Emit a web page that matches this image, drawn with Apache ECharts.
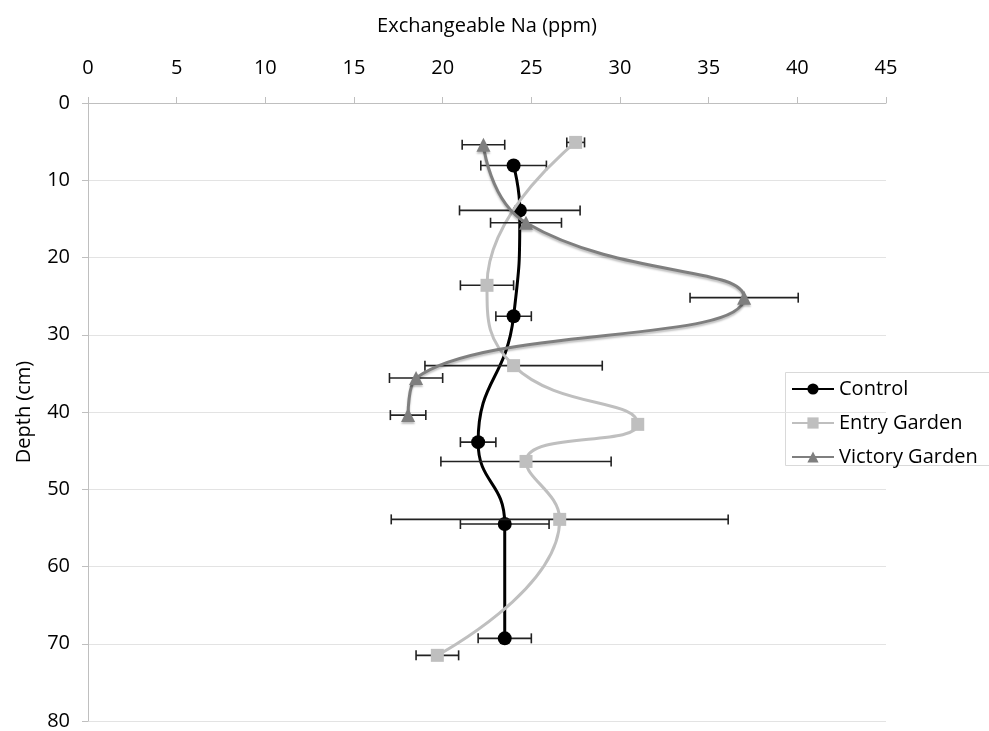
<!DOCTYPE html>
<html>
<head>
<meta charset="utf-8">
<script src="https://cdn.jsdelivr.net/npm/echarts@6/dist/echarts.min.js"></script>
<style>html,body{margin:0;padding:0;background:#fff;}#c{width:989px;height:731px;}</style>
</head>
<body>
<div id="c"></div>
<script>
// ---- data ----
const seriesNames = ['Control', 'Entry Garden', 'Victory Garden'];
const xTicks = [0, 5, 10, 15, 20, 25, 30, 35, 40, 45];
const yTicks = [0, 10, 20, 30, 40, 50, 60, 70, 80];

const controlNa = [24.0, 24.35, 24.0, 22.0, 23.5, 23.5];
const controlDepth = [8.1, 13.9, 27.6, 43.9, 54.5, 69.3];
const controlErr = [1.85, 3.4, 1.0, 1.0, 2.5, 1.5];

const entryNa = [27.5, 22.5, 24.0, 31.0, 24.7, 26.6, 19.7];
const entryDepth = [5.1, 23.6, 34.0, 41.6, 46.4, 53.9, 71.5];
const entryErr = [0.5, 1.5, 5.0, 0, 4.8, 9.5, 1.2];

const victoryNa = [22.3, 24.7, 37.0, 18.5, 18.05];
const victoryDepth = [5.4, 15.5, 25.2, 35.6, 40.4];
const victoryErr = [1.2, 2.0, 3.05, 1.5, 1.0];

// ---- build ----
const FONT = 'Open Sans';
const FS = 20;
function pts(xs, ys) { return xs.map((x, i) => [x, ys[i]]); }
function errData(xs, ys, es) { return xs.map((x, i) => [x, ys[i], es[i]]); }

function errSeries(data, z) {
  return {
    type: 'custom',
    z: z,
    silent: true,
    encode: { x: 0, y: 1 },
    data: data,
    renderItem: function (params, api) {
      const x = api.value(0), y = api.value(1), e = api.value(2);
      if (!e) return null;
      const a = api.coord([x - e, y]);
      const b = api.coord([x + e, y]);
      const h = 5;
      const st = { stroke: '#222', lineWidth: 1.6 };
      return {
        type: 'group',
        children: [
          { type: 'line', shape: { x1: a[0], y1: a[1], x2: b[0], y2: b[1] }, style: st },
          { type: 'line', shape: { x1: a[0], y1: a[1] - h, x2: a[0], y2: a[1] + h }, style: st },
          { type: 'line', shape: { x1: b[0], y1: b[1] - h, x2: b[0], y2: b[1] + h }, style: st }
        ]
      };
    }
  };
}

const chart = echarts.init(document.getElementById('c'), null, { renderer: 'canvas' });
chart.setOption({
  animation: false,
  backgroundColor: '#fff',
  textStyle: { fontFamily: FONT },
  grid: { left: 88, right: 103, top: 103, bottom: 9, containLabel: false },
  graphic: [{
    type: 'rect', z: 0,
    shape: { x: 785.5, y: 372.5, width: 220, height: 93 },
    style: { fill: '#fff', stroke: '#d9d9d9', lineWidth: 1 }
  }],
  legend: {
    data: seriesNames,
    orient: 'vertical',
    left: 785,
    top: 372,
    padding: [5, 60, 4, 6],
    itemGap: 10,
    itemWidth: 42,
    itemHeight: 14,
    textStyle: { fontFamily: FONT, fontSize: FS, color: '#000', lineHeight: 24 }
  },
  xAxis: {
    type: 'value',
    position: 'top',
    min: xTicks[0],
    max: xTicks[xTicks.length - 1],
    interval: 5,
    name: 'Exchangeable Na (ppm)',
    nameLocation: 'middle',
    nameGap: 67,
    nameTextStyle: { fontFamily: FONT, fontSize: FS, color: '#000' },
    axisLine: { lineStyle: { color: '#bfbfbf', width: 1 } },
    axisTick: { show: true, inside: false, length: 6, lineStyle: { color: '#bfbfbf' } },
    axisLabel: { fontFamily: FONT, fontSize: FS, color: '#000', margin: 25 },
    splitLine: { show: false }
  },
  yAxis: {
    type: 'value',
    inverse: true,
    min: yTicks[0],
    max: yTicks[yTicks.length - 1],
    interval: 10,
    name: 'Depth (cm)',
    nameLocation: 'middle',
    nameRotate: 90,
    nameGap: 54,
    nameTextStyle: { fontFamily: FONT, fontSize: FS, color: '#000' },
    axisLine: { lineStyle: { color: '#bfbfbf', width: 1 } },
    axisTick: { show: true, inside: false, length: 6, lineStyle: { color: '#bfbfbf' } },
    axisLabel: { fontFamily: FONT, fontSize: FS, color: '#000', margin: 18 },
    splitLine: { show: true, lineStyle: { color: '#e3e3e3', width: 1 } }
  },
  series: [
    errSeries(errData(controlNa, controlDepth, controlErr), 2),
    {
      name: 'Control', type: 'line', z: 3, smooth: 0.5,
      data: pts(controlNa, controlDepth),
      symbol: 'circle', symbolSize: 14,
      lineStyle: { color: '#000', width: 3 },
      itemStyle: { color: '#000' }
    },
    errSeries(errData(entryNa, entryDepth, entryErr), 4),
    {
      name: 'Entry Garden', type: 'line', z: 5, smooth: 0.5,
      data: pts(entryNa, entryDepth),
      symbol: 'rect', symbolSize: 13,
      lineStyle: { color: '#bfbfbf', width: 3 },
      itemStyle: { color: '#bfbfbf' }
    },
    errSeries(errData(victoryNa, victoryDepth, victoryErr), 6),
    {
      name: 'Victory Garden', type: 'line', z: 7, smooth: 0.5,
      data: pts(victoryNa, victoryDepth),
      symbol: 'triangle', symbolSize: 14,
      lineStyle: { color: '#7f7f7f', width: 3, shadowColor: 'rgba(0,0,0,0.25)', shadowBlur: 2, shadowOffsetY: 2 },
      itemStyle: { color: '#7f7f7f', shadowColor: 'rgba(0,0,0,0.25)', shadowBlur: 2, shadowOffsetY: 2 }
    }
  ]
});
</script>
</body>
</html>
